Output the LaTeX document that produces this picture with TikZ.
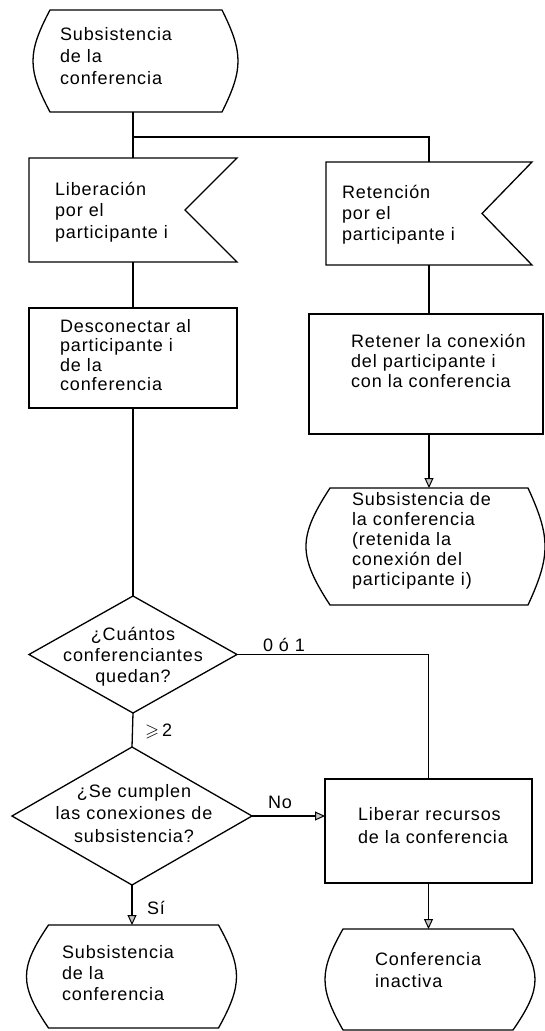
\documentclass[tikz,border=0pt]{standalone}
\usepackage{amssymb}
\usepackage{fontspec}
\setmainfont{Liberation Sans}[LetterSpace=5]
\usetikzlibrary{shapes.geometric,arrows.meta}
% outline of a "state" symbol around an invisible rectangle node
% #1 node name, #2 height, #3 left bulge, #4 right bulge
\newcommand{\StateOutline}[4]{%
  \draw[ln] (#1.north west) -- (#1.north east)
    .. controls +({4*#4/3},{0.42*#2}) and +({4*#4/3},{-0.42*#2}) .. (#1.south east)
    -- (#1.south west)
    .. controls +({-4*#3/3},{-0.42*#2}) and +({-4*#3/3},{0.42*#2}) .. (#1.north west)
    -- cycle;}
% outline of a "signal" symbol (notch on the right side)
\newcommand{\SignalOutline}[2]{%
  \draw[ln] (#1.north west) -- (#1.north east) -- ([xshift=-#2]#1.east)
    -- (#1.south east) -- (#1.south west) -- cycle;}
\begin{document}
\begin{tikzpicture}[x=1pt,y=-1pt,
  ln/.style={line width=1.3pt, line join=miter},
  frame/.style={draw=none, inner sep=0pt, outer sep=0pt, rectangle},
  boxnode/.style={draw, line width=1.3pt, inner sep=0pt, outer sep=0pt, rectangle},
  decision/.style={diamond, draw, line width=1.3pt, inner sep=0pt, outer sep=0pt},
  txt/.style={inner sep=0pt, outer sep=0pt, anchor=base west, text width=200pt, align=left},
  ctxt/.style={inner sep=0pt, outer sep=0pt, anchor=base, text width=236pt, align=center},
  lbl/.style={inner sep=0pt, outer sep=0pt, font=\fontsize{18}{21}\selectfont},
  arr/.style={ln, -{Triangle[length=10pt,width=9pt,fill=gray!45,line width=1pt]}},
  fs/.style={font=\fontsize{18}{#1}\selectfont},
]
\fill[white] (0,0) rectangle (544,1031);
\useasboundingbox (0,0) rectangle (544,1031);

% ---- shapes ----
\node[frame, minimum width=172pt, minimum height=102pt] (s1) at (136,61) {};
\StateOutline{s1}{102}{17}{16}

\node[frame, minimum width=208pt, minimum height=104pt] (l1) at (133,210) {};
\SignalOutline{l1}{52pt}

\node[frame, minimum width=206pt, minimum height=103pt] (l2) at (429,213.5) {};
\SignalOutline{l2}{50pt}

\node[boxnode, minimum width=208pt, minimum height=100pt] (b1) at (133,358) {};
\node[boxnode, minimum width=234pt, minimum height=120pt] (b2) at (426,374) {};

\node[frame, minimum width=198pt, minimum height=117pt] (s2) at (429,546.5) {};
\StateOutline{s2}{117}{24}{17}

\node[decision, minimum width=208pt, minimum height=117pt] (d1) at (133,654.5) {};
\node[decision, minimum width=240pt, minimum height=138pt] (d2) at (132,816) {};

\node[boxnode, minimum width=207pt, minimum height=104pt] (b3) at (428.5,831) {};

\node[frame, minimum width=170pt, minimum height=103pt] (s3) at (133.5,976.5) {};
\StateOutline{s3}{103}{22}{18}

\node[frame, minimum width=170pt, minimum height=101pt] (s4) at (428,979.5) {};
\StateOutline{s4}{101}{18}{22}

% ---- texts ----
\node[txt, fs=22] (s1t) at (60,40) {Subsistencia\\de la\\conferencia};
\node[txt, fs=21.5] (l1t) at (55,195) {Liberación\\por el\\participante i};
\node[txt, fs=21] (l2t) at (342,198) {Retención\\por el\\participante i};
\node[txt, fs=19.5] (b1t) at (60,332) {Desconectar al\\participante i\\de la\\conferencia};
\node[txt, fs=20] (b2t) at (351,347) {Retener la conexión\\del participante i\\con la conferencia};
\node[txt, fs=20] (s2t) at (352,505) {Subsistencia de\\la conferencia\\(retenida la\\conexión del\\participante i)};
\node[ctxt, fs=21] (d1t) at (133,640) {¿Cuántos\\conferenciantes\\quedan?};
\node[ctxt, fs=22.5] (d2t) at (134,797) {¿Se cumplen\\las conexiones de\\subsistencia?};
\node[txt, fs=23] (b3t) at (358,820) {Liberar recursos\\de la conferencia};
\node[txt, fs=21] (s3t) at (62,958) {Subsistencia\\de la\\conferencia};
\node[txt, fs=22] (s4t) at (375,965) {Conferencia\\inactiva};

% ---- connectors ----
\coordinate (j1) at (133,137);
\draw[ln] (s1.south -| l1.north) -- (l1.north);
\draw[ln] (j1) -| (l2.north);
\draw[ln] (l1.south) -- (b1.north);
\draw[ln] (l2.south) -- (l2.south |- b2.north);
\draw[arr] (s2.north |- b2.south) -- (s2.north);
\draw[ln] (b1.south) -- (d1.north);
\draw[ln] (d1.east) -| (b3.north);
\draw[ln] (d1.south) -- (d2.north);
\draw[arr] (d2.east) -- (d2.east -| b3.west);
\draw[arr] (d2.south) -- (d2.south |- s3.north);
\draw[arr] (b3.south) -- (b3.south |- s4.north);

% ---- connector labels ----
\node[lbl, anchor=base] (lab01) at (284,651) {0 ó 1};
\node[lbl, anchor=base west] (labge) at (145,736) {$\geqslant$\,2};
\node[lbl, anchor=base] (labno) at (280,808) {No};
\node[lbl, anchor=base west] (labsi) at (147,914) {Sí};
\end{tikzpicture}
\end{document}
